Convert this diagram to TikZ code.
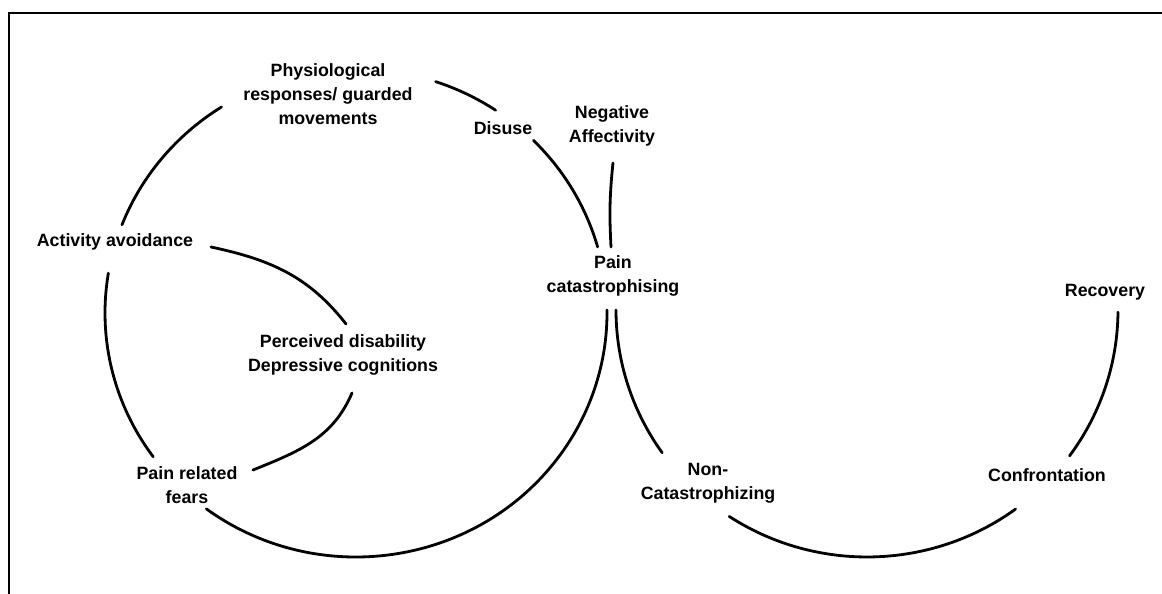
\documentclass[tikz,border=0pt]{standalone}
\usepackage{fontspec}
\setmainfont{Liberation Sans}
\usetikzlibrary{calc}
\tikzset{
  lbl/.style={font=\bfseries\fontsize{17.8pt}{24pt}\selectfont, align=center, inner sep=0pt, text=black},
  link/.style={line width=2.8pt, draw=black, line cap=round},
  frameline/.style={line width=2pt, draw=black}
}
\begin{document}
\begin{tikzpicture}[x=1pt,y=1pt]
\useasboundingbox (0,0) rectangle (1162,594);
% frame (cut off at right and bottom)
\coordinate (f1) at (9,0);
\coordinate (f2) at (9,581.3);
\coordinate (f3) at (1162,581.3);
\draw[frameline] (f1) -- (f2) -- (f3);
% circle centres
\coordinate (L) at (356,281);
\coordinate (R) at (867,284);
% labels
\node[lbl] (phys) at (328,500) {Physiological\\responses/ guarded\\movements};
\node[lbl] (disuse) at (503,466) {Disuse};
\node[lbl] (neg) at (612,468) {Negative\\Affectivity};
\node[lbl] (act) at (115,352) {Activity avoidance};
\node[lbl] (cat) at (613,318) {Pain\\catastrophising};
\node[lbl] (perc) at (343,239.5) {Perceived disability\\Depressive cognitions};
\node[lbl] (fear) at (187,109) {Pain related\\fears};
\node[lbl] (noncat) at (708,111) {Non-\\Catastrophizing};
\node[lbl] (conf) at (1047,119) {Confrontation};
\node[lbl] (rec) at (1105,302) {Recovery};
% arc end points on the left circle
\coordinate (a1) at ($(L)+(122.4:251pt and 244pt)$);
\coordinate (a2) at ($(L)+(170.6:251pt and 244pt)$);
\coordinate (a3) at ($(L)+(233.4:251pt and 244pt)$);
\coordinate (a4) at ($(L)+(15.7:251pt and 244pt)$);
\coordinate (a5) at ($(L)+(56.2:251pt and 244pt)$);
% left cycle
\draw[link] (a1) arc[start angle=122.4, end angle=158.8, x radius=251pt, y radius=244pt];
\draw[link] (a2) arc[start angle=170.6, end angle=216.1, x radius=251pt, y radius=244pt];
\draw[link] (a3) arc[start angle=233.4, end angle=360.7, x radius=251pt, y radius=244pt];
\draw[link] (a4) arc[start angle=15.7, end angle=45, x radius=251pt, y radius=244pt];
\draw[link] (a5) arc[start angle=56.2, end angle=71.5, x radius=251pt, y radius=244pt];
% inner loop
\coordinate (i1) at (211,347);
\coordinate (i2) at (346,270);
\coordinate (i3) at (352,201);
\coordinate (i4) at (253,124);
\draw[link] (i1) to[out=-12,in=128] (i2);
\draw[link] (i3) to[out=247,in=22] (i4);
% negative affectivity
\coordinate (n1) at (613,431);
\coordinate (n2) at (611,347);
\draw[link] (n1) to[out=264,in=93] (n2);
% right cycle
\coordinate (b1) at ($(R)+(180:251pt and 247pt)$);
\coordinate (b2) at ($(R)+(236.7:251pt and 247pt)$);
\coordinate (b3) at ($(R)+(323.8:251pt and 247pt)$);
\draw[link] (b1) arc[start angle=180, end angle=215.3, x radius=251pt, y radius=247pt];
\draw[link] (b2) arc[start angle=236.7, end angle=306.3, x radius=251pt, y radius=247pt];
\draw[link] (b3) arc[start angle=323.8, end angle=359.5, x radius=251pt, y radius=247pt];
\end{tikzpicture}
\end{document}
